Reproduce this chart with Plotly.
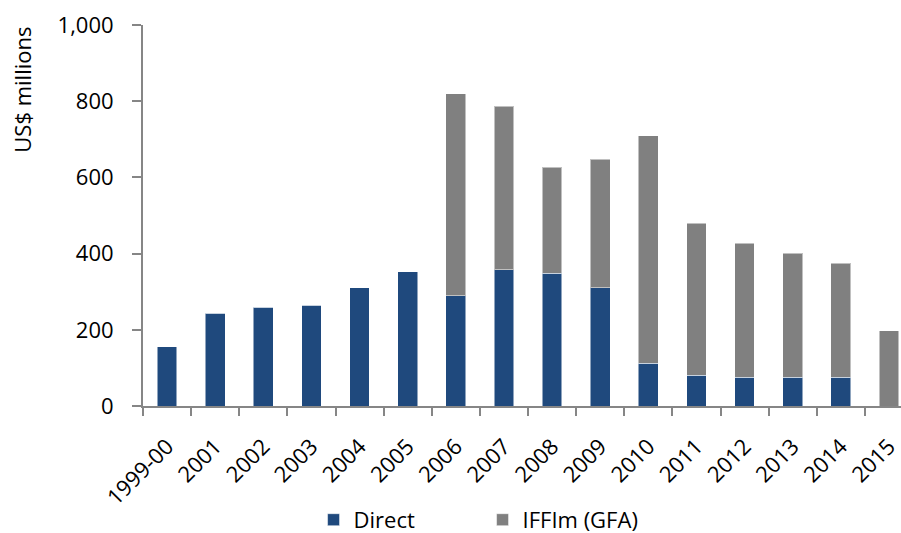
import plotly.graph_objects as go

years = ["1999-00", "2001", "2002", "2003", "2004", "2005", "2006", "2007",
         "2008", "2009", "2010", "2011", "2012", "2013", "2014", "2015"]
direct = [155, 243, 259, 264, 311, 353, 290, 358, 348, 311, 112, 81, 76, 76, 76, 0]
total = [155, 243, 259, 264, 311, 353, 819, 787, 626, 647, 709, 480, 427, 401, 375, 197]
iffim = [t - d for t, d in zip(total, direct)]

FONT = "Open Sans"
AXIS = "#868686"
FS = 22

fig = go.Figure()
fig.add_trace(go.Bar(x=years, y=direct, name="Direct",
                     marker=dict(color="#1F497D", line=dict(color="rgba(255,255,255,0.5)", width=1))))
fig.add_trace(go.Bar(x=years, y=iffim, name="IFFIm (GFA)",
                     marker=dict(color="#808080", line=dict(color="rgba(255,255,255,0.5)", width=1))))

fig.update_layout(
    barmode="stack",
    bargap=0.59,
    width=901, height=533,
    margin=dict(l=143, r=0, t=25, b=127),
    plot_bgcolor="white", paper_bgcolor="white",
    font=dict(family=FONT, size=FS, color="#000000"),
    showlegend=True,
    legend=dict(orientation="h", x=0.225, y=0.064, xref="paper", yref="container",
                xanchor="left", yanchor="top",
                entrywidth=124, entrywidthmode="pixels", font=dict(size=FS),
                traceorder="normal"),
    xaxis=dict(type="category", range=[-0.5, 15.25], showline=True, linecolor=AXIS, linewidth=2,
               ticks="outside", tickson="boundaries", ticklen=8, tickcolor=AXIS, tickwidth=2,
               tickangle=-45, showgrid=False, tickfont=dict(size=FS), ticklabelstandoff=17,
               automargin=False),
    yaxis=dict(range=[0, 1000], tickvals=[0, 200, 400, 600, 800, 1000],
               ticktext=["0", "200", "400", "600", "800", "1,000"],
               showline=True, linecolor=AXIS, linewidth=2, ticks="outside", ticklen=9,
               tickcolor=AXIS, tickwidth=2, showgrid=False, zeroline=False,
               tickfont=dict(size=FS), ticklabelstandoff=14, automargin=False),
    annotations=[dict(text="US$ millions", textangle=-90, xref="paper", yref="paper",
                      x=-0.16, y=1.0, xanchor="center", yanchor="top", showarrow=False,
                      font=dict(size=FS))],
)

fig.write_html("out.html", config={"displayModeBar": False},
               post_script="document.body.style.margin='0';")
